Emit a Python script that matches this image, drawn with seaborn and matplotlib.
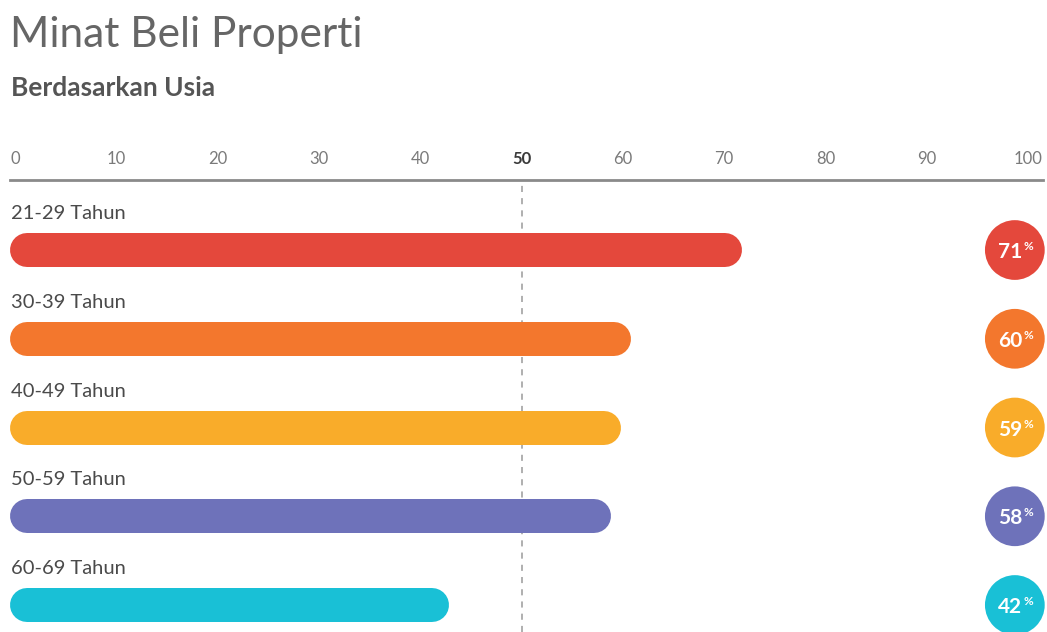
import matplotlib
matplotlib.use('Agg')
import matplotlib.pyplot as plt
import seaborn as sns

# data
age_groups = ['21-29 Tahun', '30-39 Tahun', '40-49 Tahun', '50-59 Tahun', '60-69 Tahun']
interest = [71, 60, 59, 58, 42]
bar_colors = ['#E4483C', '#F3772D', '#F9AC2A', '#6E72BA', '#19C0D6']
ticks = [0, 10, 20, 30, 40, 50, 60, 70, 80, 90, 100]

sns.set_theme(style='white')
plt.rcParams['font.family'] = ['Lato', 'DejaVu Sans']

fig = plt.figure(figsize=(10.47, 6.32), dpi=100)
ax = fig.add_axes([0, 0, 1, 452 / 632])

sns.barplot(x=interest, y=age_groups, hue=age_groups, palette=bar_colors,
            orient='h', width=0.383, saturation=1, legend=False, ax=ax)

ax.set_xlim(-15 / 10.13, (1047 - 15) / 10.13)
ax.set_ylim(4.304, -0.789)

# turn the flat bars into pill shapes (thick lines with round caps)
fig.canvas.draw()
px_x = ax.transData.transform((1, 0))[0] - ax.transData.transform((0, 0))[0]
px_y = abs(ax.transData.transform((0, 1))[1] - ax.transData.transform((0, 0))[1])
for p in list(ax.patches):
    x0, y0, w, h = p.get_x(), p.get_y(), p.get_width(), p.get_height()
    fc = p.get_facecolor()
    p.remove()
    thick_px = h * px_y
    r = thick_px / 2 / px_x
    ax.plot([x0 - 0.5 + r, x0 + w + 0.8 - r], [y0 + h / 2] * 2, color=fc,
            lw=thick_px * 72 / fig.dpi, solid_capstyle='round', zorder=2)

# category labels above bars
for i, lab in enumerate(age_groups):
    ax.text(-0.4, i - 0.41, lab, ha='left', va='center', fontsize=14.5, color='#4a4a4a')

# 50 reference line
ax.axvline(50, color='#9a9a9a', lw=1.1, ls=(0, (4, 4)), zorder=0)

# value circles
cx = [98.7] * len(interest)
ax.scatter(cx, range(len(interest)), s=1850, c=bar_colors, clip_on=False, zorder=3, edgecolors='none')
for i, v in enumerate(interest):
    ax.annotate(f'{v}', (98.7, i), xytext=(-3.5, -1.5), textcoords='offset points',
                ha='center', va='center', fontsize=15, fontweight='bold', color='white', zorder=4)
    ax.annotate('%', (98.7, i), xytext=(9.5, 2.5), textcoords='offset points',
                ha='center', va='center', fontsize=8.5, fontweight='bold', color='white', zorder=4)

# axis on top
ax.set_xticks(ticks)
ax.xaxis.tick_top()
ax.tick_params(axis='x', length=0, pad=9, labelsize=12, labelcolor='#7a7a7a')
for t in ax.get_xticklabels():
    if t.get_text() == '50':
        t.set_fontweight('bold')
        t.set_color('#3a3a3a')
ax.set_yticks([])
ax.set_ylabel('')
for s in ['left', 'right', 'bottom']:
    ax.spines[s].set_visible(False)
ax.spines['top'].set_color('#8a8a8a')
ax.spines['top'].set_linewidth(2)
ax.spines['top'].set_bounds(-0.5, 101.5)

fig.text(10 / 1047, 1 - 35 / 632, 'Minat Beli Properti', fontsize=30.5, color='#666666',
         ha='left', va='center')
fig.text(11 / 1047, 1 - 88 / 632, 'Berdasarkan Usia', fontsize=19, fontweight='bold',
         color='#555555', ha='left', va='center')

fig.savefig('out.png', dpi=100)
